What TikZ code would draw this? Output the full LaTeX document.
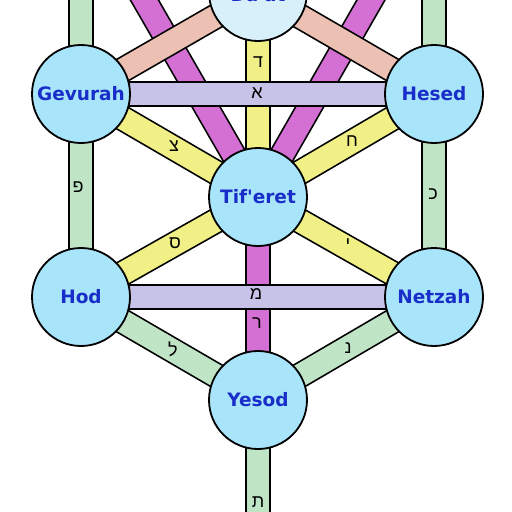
\documentclass[tikz,border=0pt]{standalone}
\usepackage{fontspec}
\usetikzlibrary{backgrounds}
\newfontfamily\hebfont[Script=Hebrew]{Liberation Sans}
\newfontfamily\namefont{DejaVu Sans}
\definecolor{sefblue}{RGB}{168,228,250}
\definecolor{sefpale}{RGB}{215,240,250}
\definecolor{txtblue}{RGB}{25,45,200}
\definecolor{pathyellow}{RGB}{240,240,135}
\definecolor{pathlav}{RGB}{198,194,232}
\definecolor{pathmag}{RGB}{212,112,212}
\definecolor{pathpink}{RGB}{236,192,178}
\definecolor{pathgreen}{RGB}{192,228,198}
\tikzset{
  sefira/.style={circle, draw=black, line width=1.8pt, fill=sefblue, minimum size=98pt, inner sep=0pt,
    font=\namefont\bfseries\fontsize{18.5}{18.5}\selectfont, text=txtblue},
  band/.style={draw=black, line width=1.7pt, double=#1, double distance=22.5pt, line cap=butt},
  letter/.style={font=\hebfont\fontsize{18}{18}\selectfont, text=black, inner sep=0pt}
}
\begin{document}
\begin{tikzpicture}[x=1pt,y=-1pt]
\useasboundingbox (0,0) rectangle (512,512);
\clip (0,0) rectangle (512,512);
% sefirot
\node[sefira, fill=sefpale] (daat) at (258,-8) {};
\node[anchor=base, inner sep=0pt, font=\namefont\bfseries\fontsize{18.5}{18.5}\selectfont, text=txtblue] (daattext) at (258,1.5) {Da'at};
\node[sefira] (gevurah) at (81,94) {Gevurah};
\node[sefira] (hesed) at (434,94) {Hesed};
\node[sefira] (tiferet) at (258,197) {Tif'eret};
\node[sefira] (hod) at (81,297) {Hod};
\node[sefira] (netzah) at (434,297) {Netzah};
\node[sefira] (yesod) at (258,400) {Yesod};
% off-canvas ends
\coordinate (binah) at (81,-110);
\coordinate (hokhmah) at (434,-110);
\coordinate (malkhut) at (258,600);
\begin{scope}[on background layer]
  \draw[band=pathmag] (binah) -- (tiferet.center);
  \draw[band=pathmag] (hokhmah) -- (tiferet.center);
  \draw[band=pathgreen] (binah) -- (gevurah.center);
  \draw[band=pathgreen] (hokhmah) -- (hesed.center);
  \draw[band=pathpink] (daat.center) -- (gevurah.center);
  \draw[band=pathpink] (daat.center) -- (hesed.center);
  \draw[band=pathyellow] (daat.center) -- (tiferet.center);
  \draw[band=pathlav] (gevurah.center) -- (hesed.center);
  \draw[band=pathyellow] (gevurah.center) -- (tiferet.center);
  \draw[band=pathyellow] (hesed.center) -- (tiferet.center);
  \draw[band=pathyellow] (hod.center) -- (tiferet.center);
  \draw[band=pathyellow] (netzah.center) -- (tiferet.center);
  \draw[band=pathgreen] (gevurah.center) -- (hod.center);
  \draw[band=pathgreen] (hesed.center) -- (netzah.center);
  \draw[band=pathmag] (tiferet.center) -- (yesod.center);
  \draw[band=pathlav] (hod.center) -- (netzah.center);
  \draw[band=pathgreen] (hod.center) -- (yesod.center);
  \draw[band=pathgreen] (netzah.center) -- (yesod.center);
  \draw[band=pathgreen] (yesod.center) -- (malkhut);
\end{scope}
% letters
\node[letter] (lbet) at (432,-5) {ב};
\node[letter] (ldalet) at (258,62) {ד};
\node[letter] (laleph) at (257,93) {א};
\node[letter] (ltsadi) at (174,146) {צ};
\node[letter] (lhet) at (352,141) {ח};
\node[letter] (lpe) at (78,187) {פ};
\node[letter] (lkaf) at (433,194) {כ};
\node[letter] (lsamekh) at (175,243) {ס};
\node[letter] (lyod) at (348,244) {י};
\node[letter] (lmem) at (256,294) {מ};
\node[letter] (lresh) at (257,323) {ר};
\node[letter] (llamed) at (173,349) {ל};
\node[letter] (lnun) at (348,348) {נ};
\node[letter] (ltav) at (258,502) {ת};
\end{tikzpicture}
\end{document}
